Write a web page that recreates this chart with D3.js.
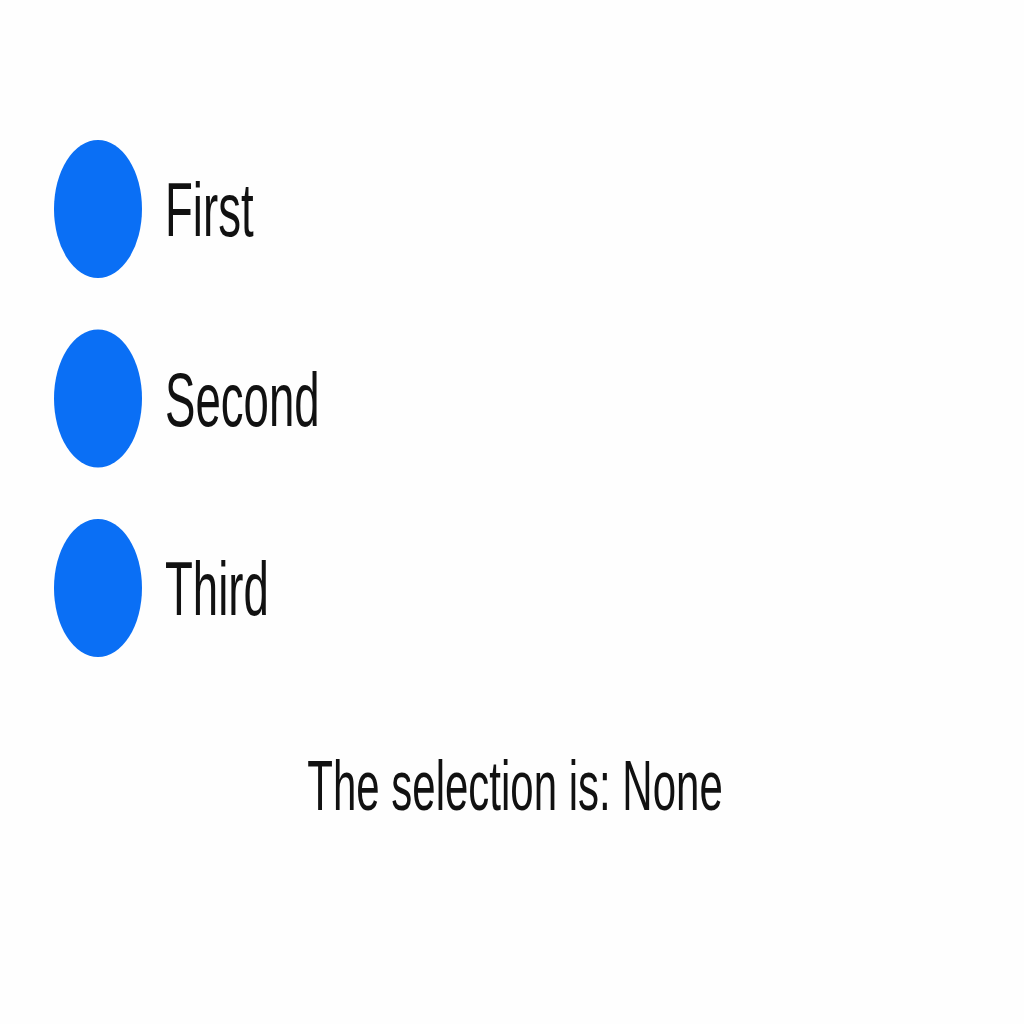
<!DOCTYPE html>
<html>
<head>
<meta charset="utf-8">
<script src="https://cdn.jsdelivr.net/npm/d3@7"></script>
<style>
  body { margin: 0; background: #fefefe; }
</style>
</head>
<body>
<svg id="chart"></svg>
<script>
const options = ["First", "Second", "Third"];
const selection = "None";

const width = 1024, height = 1024;
const sx = 0.6; // text is drawn narrow, like the reference

const svg = d3.select("#chart")
  .attr("width", width)
  .attr("height", height)
  .style("font-family", "Liberation Sans, Arial, sans-serif");

svg.append("rect").attr("width", width).attr("height", height).attr("fill", "#fefefe");

const y = d3.scalePoint()
  .domain(options)
  .range([209, 588]);

const rows = svg.selectAll(".option")
  .data(options)
  .enter().append("g")
  .attr("class", "option")
  .attr("transform", d => `translate(0,${y(d)})`);

rows.append("ellipse")
  .attr("cx", 98)
  .attr("cy", 0)
  .attr("rx", 44)
  .attr("ry", 69)
  .attr("fill", "#0a6ff5");

rows.append("text")
  .attr("transform", `translate(165,27) scale(${sx},1)`)
  .style("font-size", "76px")
  .style("fill", "#111")
  .text(d => d);

svg.append("text")
  .attr("transform", `translate(515,810) scale(${sx},1)`)
  .attr("text-anchor", "middle")
  .style("font-size", "70px")
  .style("fill", "#111")
  .text(`The selection is: ${selection}`);
</script>
</body>
</html>
